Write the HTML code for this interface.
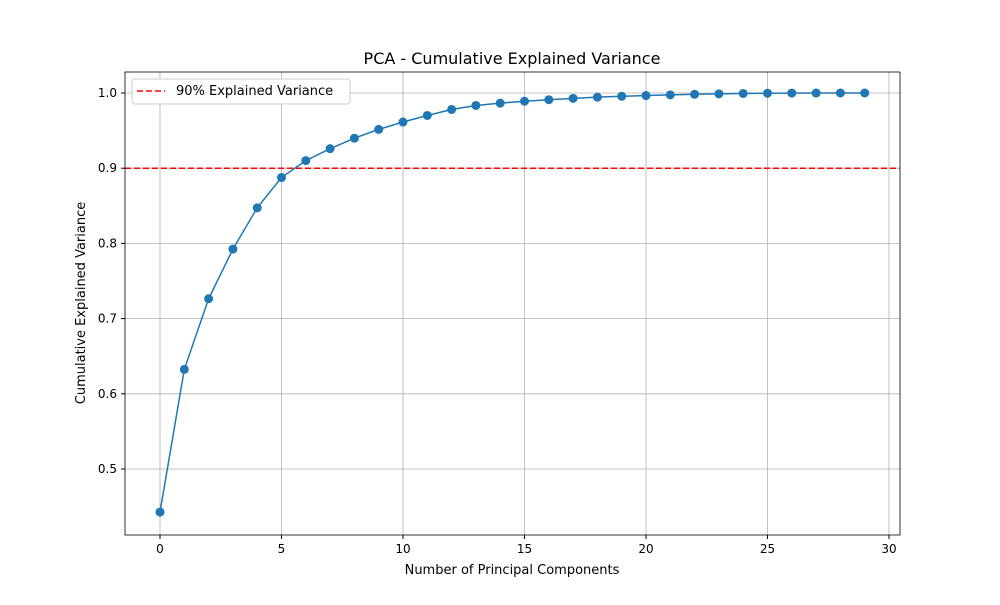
<!DOCTYPE html>
<html><head><meta charset="utf-8"><style>
body{margin:0;background:#fff;}
svg text{font-family:"DejaVu Sans","Liberation Sans",sans-serif;}
</style></head><body>
<svg id="chart" width="1000" height="600" xmlns="http://www.w3.org/2000/svg">
<rect width="1000" height="600" fill="#fff"/>
<g id="grid"></g>
<g id="ticks"></g>
<line id="thresh" stroke="red" stroke-width="1.5" stroke-dasharray="6,3"/>
<g id="series"></g>
<rect x="125" y="72" width="775" height="463" fill="none" stroke="#000" stroke-width="0.8"/>
<text x="512" y="64" font-size="16" text-anchor="middle">PCA - Cumulative Explained Variance</text>
<text x="512" y="574" font-size="13" text-anchor="middle">Number of Principal Components</text>
<text x="85" y="303" font-size="13" text-anchor="middle" transform="rotate(-90 85 303)">Cumulative Explained Variance</text>
<g>
<rect x="132" y="79" width="218" height="25" fill="#fff" stroke="#ccc" rx="3"/>
<line x1="137" y1="91" x2="165" y2="91" stroke="red" stroke-width="1.5" stroke-dasharray="6,3"/>
<text x="176" y="95" font-size="13">90% Explained Variance</text>
</g>
</svg>
<script>
const components=[0,1,2,3,4,5,6,7,8,9,10,11,12,13,14,15,16,17,18,19,20,21,22,23,24,25,26,27,28,29];
const cumVariance=[0.4427,0.6324,0.7264,0.7924,0.8473,0.8876,0.9101,0.9260,0.9399,0.9516,0.9614,0.9701,0.9781,0.9834,0.9865,0.9891,0.9911,0.9929,0.9945,0.9956,0.9966,0.9975,0.9983,0.9989,0.9994,0.9997,0.9999,0.99998,0.999995,1.0];
const xTicks=[0,5,10,15,20,25,30];
const yTicks=[0.5,0.6,0.7,0.8,0.9,1.0];
const threshold=0.9;
const NS="http://www.w3.org/2000/svg";
const X=v=>160+v*(889-160)/30;
const Y=v=>469-(v-0.5)*752;
const L=125,R=900,T=72,B=535;
function mk(tag,attrs,parent){const e=document.createElementNS(NS,tag);for(const k in attrs)e.setAttribute(k,attrs[k]);parent.appendChild(e);return e;}
const grid=document.getElementById('grid'),ticks=document.getElementById('ticks'),ser=document.getElementById('series');
xTicks.forEach(t=>{const x=X(t);
const g=mk('line',{x1:x,x2:x,y1:T,y2:B,stroke:'#b0b0b0','stroke-width':0.8},grid);


mk('line',{x1:x,x2:x,y1:B,y2:B+4,stroke:'#000'},ticks);
const tx=mk('text',{x:x,y:B+18,'font-size':12,'text-anchor':'middle'},ticks);tx.textContent=t;

});
yTicks.forEach(t=>{const y=Y(t);
const g=mk('line',{x1:L,x2:R,y1:y,y2:y,stroke:'#b0b0b0','stroke-width':0.8},grid);


mk('line',{x1:L-4,x2:L,y1:y,y2:y,stroke:'#000'},ticks);
const tx=mk('text',{x:L-8,y:y+4,'font-size':12,'text-anchor':'end'},ticks);tx.textContent=t.toFixed(1);

});
const th=document.getElementById('thresh');
th.setAttribute('x1',L);th.setAttribute('x2',R);th.setAttribute('y1',Y(threshold));th.setAttribute('y2',Y(threshold));
const pl=mk('polyline',{points:components.map((c,i)=>X(c)+','+Y(cumVariance[i])).join(' '),fill:'none',stroke:'#1f77b4','stroke-width':1.5},ser);


components.forEach((c,i)=>{const p=mk('circle',{cx:X(c),cy:Y(cumVariance[i]),r:4.5,fill:'#1f77b4'},ser);

});
</script>
</body></html>
